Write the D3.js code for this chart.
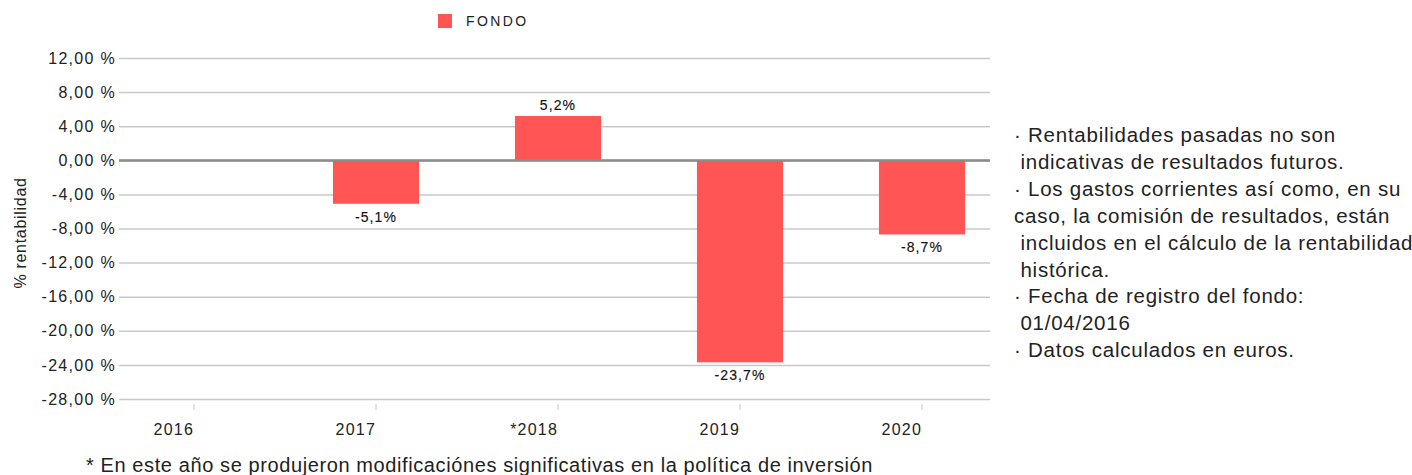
<!DOCTYPE html>
<html>
<head>
<meta charset="utf-8">
<script src="https://cdn.jsdelivr.net/npm/d3@7"></script>
<style>
  body { margin: 0; background: #fff; }
  svg { font-family: "Liberation Sans", Arial, sans-serif; }
</style>
</head>
<body>
<div id="chart"></div>
<script>
const years = ['2016', '2017', '*2018', '2019', '2020'];
const fondo = [null, -5.1, 5.2, -23.7, -8.7];
const yTicks = [12, 8, 4, 0, -4, -8, -12, -16, -20, -24, -28];
const seriesName = 'FONDO';
const yTitle = '% rentabilidad';
const notes = [
  '· Rentabilidades pasadas no son',
  ' indicativas de resultados futuros.',
  '· Los gastos corrientes así como, en su',
  'caso, la comisión de resultados, están',
  ' incluidos en el cálculo de la rentabilidad',
  ' histórica.',
  '· Fecha de registro del fondo:',
  ' 01/04/2016',
  '· Datos calculados en euros.'
];
const footnote = '* En este año se produjeron modificaciónes significativas en la política de inversión';

const width = 1412, height = 475;
const gridLeft = 119, gridRight = 990;
const barColor = '#ff5555';
const font = '"Liberation Sans", Arial, sans-serif';

const svg = d3.select('#chart').append('svg')
  .attr('width', width)
  .attr('height', height);

const y = d3.scaleLinear()
  .domain([-28, 12])
  .range([399, 58]);

const x = d3.scaleBand()
  .domain(years)
  .range([103, 1013])
  .paddingInner(0.527)
  .paddingOuter(0.2635);

const fmtAxis = d => d.toFixed(2).replace('.', ',') + ' %';
const fmtVal = d => d.toFixed(1).replace('.', ',') + '%';

// gridlines + y labels
let yAxis = svg.append('g')
  .attr('transform', 'translate(' + gridRight + ',0)')
  .call(d3.axisLeft(y)
    .tickValues(yTicks)
    .tickSize(gridRight - gridLeft)
    .tickPadding(3)
    .tickFormat(fmtAxis));
yAxis.select('.domain').remove();
yAxis.selectAll('line')
  .attr('stroke', d => d === 0 ? '#8c8c8c' : '#c8c8c8')
  .attr('stroke-width', d => d === 0 ? 2 : 1.5);
yAxis.selectAll('text')
  .attr('font-size', 16)
  .attr('letter-spacing', 1.3)
  .attr('fill', '#222')
  .attr('font-family', font);

// y title
svg.append('text')
  .attr('transform', 'translate(26,233) rotate(-90)')
  .attr('text-anchor', 'middle')
  .attr('font-size', 16)
  .attr('letter-spacing', 0.7)
  .attr('fill', '#222')
  .text(yTitle);

// x axis ticks + labels
let xAxis = svg.append('g')
  .attr('transform', 'translate(0,404)')
  .call(d3.axisBottom(x).tickSize(6).tickSizeOuter(0));
xAxis.select('.domain').remove();
xAxis.selectAll('line').attr('stroke', '#c8c8c8');
xAxis.selectAll('text')
  .attr('y', 31)
  .attr('dy', 0)
  .attr('x', 0)
  .attr('text-anchor', 'end')
  .attr('font-size', 16)
  .attr('letter-spacing', 1.2)
  .attr('fill', '#222')
  .attr('font-family', font);

// bars
const data = years.map((k, i) => ({ year: k, value: fondo[i] })).filter(d => d.value != null);

svg.append('g').selectAll('rect')
  .data(data)
  .enter().append('rect')
  .attr('x', d => x(d.year))
  .attr('width', x.bandwidth())
  .attr('y', d => y(Math.max(0, d.value)))
  .attr('height', d => Math.abs(y(d.value) - y(0)))
  .attr('fill', barColor);

// redraw zero line on top
svg.append('line')
  .attr('x1', gridLeft).attr('x2', gridRight)
  .attr('y1', y(0)).attr('y2', y(0))
  .attr('stroke', '#8c8c8c')
  .attr('stroke-width', 2);

// value labels
svg.append('g').selectAll('text')
  .data(data)
  .enter().append('text')
  .attr('x', d => x(d.year) + x.bandwidth() / 2)
  .attr('y', d => d.value >= 0 ? y(d.value) - 6 : y(d.value) + 18)
  .attr('text-anchor', 'middle')
  .attr('font-size', 14)
  .attr('letter-spacing', 1.1)
  .attr('fill', '#111')
  .attr('stroke', '#111')
  .attr('stroke-width', 0.15)
  .text(d => fmtVal(d.value));

// legend
const legend = svg.append('g').attr('transform', 'translate(438,14)');
legend.append('rect')
  .attr('width', 14).attr('height', 14)
  .attr('fill', barColor);
legend.append('text')
  .attr('x', 28).attr('y', 12)
  .attr('font-size', 14)
  .attr('letter-spacing', 2.4)
  .attr('fill', '#222')
  .text(seriesName);

// notes on right
svg.append('g').selectAll('text')
  .data(notes)
  .enter().append('text')
  .attr('x', 1014)
  .attr('y', (d, i) => 142 + i * 26.9)
  .attr('font-size', 20.5)
  .attr('letter-spacing', 0.75)
  .attr('fill', '#222')
  .style('white-space', 'pre')
  .text(d => d);

// footnote
svg.append('text')
  .attr('x', 86)
  .attr('y', 472)
  .attr('font-size', 20)
  .attr('letter-spacing', 0.6)
  .attr('fill', '#222')
  .text(footnote);
</script>
</body>
</html>
